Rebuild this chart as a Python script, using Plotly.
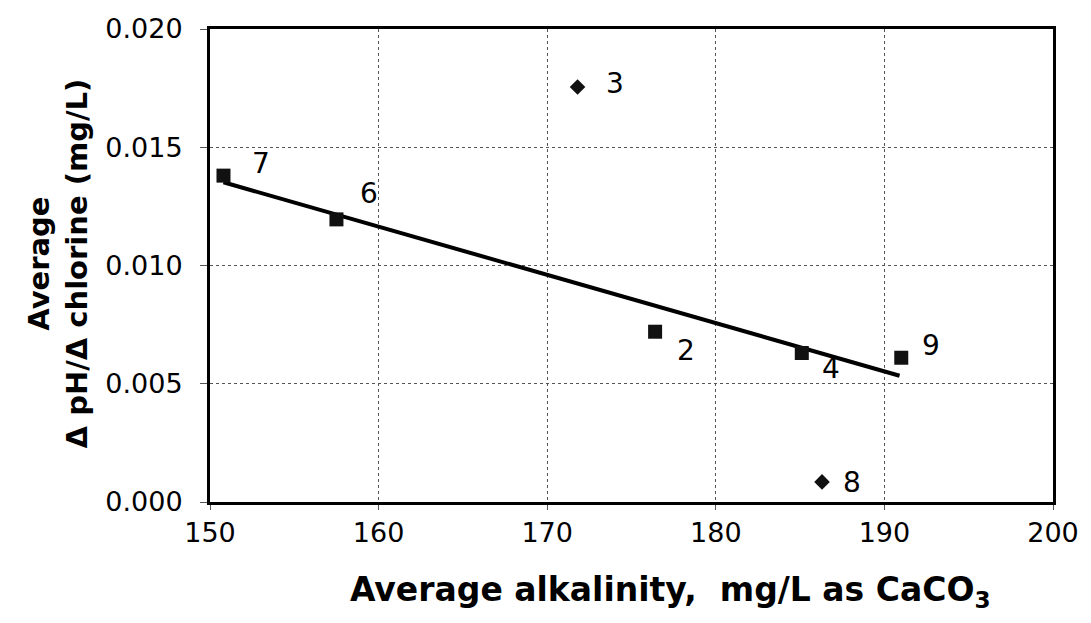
import plotly.graph_objects as go

# Data
sq_x = [150.8, 157.5, 176.4, 185.1, 191.0]
sq_y = [0.0138, 0.01195, 0.0072, 0.0063, 0.0061]
sq_labels = ["7", "6", "2", "4", "9"]
dm_x = [171.8, 186.3]
dm_y = [0.01755, 0.00085]
dm_labels = ["3", "8"]
trend_x = [150.8, 190.9]
trend_y = [0.01352, 0.00534]
x_ticks = [150, 160, 170, 180, 190, 200]
y_ticks = [0.000, 0.005, 0.010, 0.015, 0.020]

# label offsets in px (style)
sq_off = [(38, 12), (33, 26), (31, -19), (29, -15), (30, 12)]
dm_off = [(37, 3), (30, -1)]

FONT = "DejaVu Sans"
fig = go.Figure()
fig.add_trace(go.Scatter(x=trend_x, y=trend_y, mode="lines",
                         line=dict(color="black", width=4), showlegend=False))
fig.add_trace(go.Scatter(x=sq_x, y=sq_y, mode="markers",
                         marker=dict(symbol="square", size=14, color="#111"), showlegend=False))
fig.add_trace(go.Scatter(x=dm_x, y=dm_y, mode="markers",
                         marker=dict(symbol="diamond", size=12, color="#111"), showlegend=False))

for x, y, t, (dx, dy) in zip(sq_x + dm_x, sq_y + dm_y, sq_labels + dm_labels, sq_off + dm_off):
    fig.add_annotation(x=x, y=y, text=t, showarrow=False, xshift=dx, yshift=dy,
                       font=dict(family=FONT, size=28, color="black"))

fig.add_annotation(xref="paper", yref="paper", x=0.546, y=-0.19, xanchor="center", yanchor="middle",
                   text="<b>Average alkalinity,  mg/L as CaCO<sub>3</sub></b>", showarrow=False,
                   font=dict(family=FONT, size=33, color="black"))
fig.add_annotation(xref="paper", yref="paper", x=-0.18, y=0.505, xanchor="center", yanchor="middle",
                   text="<b>Average<br>Δ pH/Δ chlorine (mg/L)</b>", showarrow=False, textangle=-90,
                   font=dict(family=FONT, size=29, color="black"))

axis_common = dict(showline=True, linecolor="black", linewidth=3, mirror=True,
                   showgrid=True, gridcolor="#555", griddash="dot", gridwidth=1,
                   ticks="outside", tickcolor="#555", tickwidth=1,
                   zeroline=False, tickfont=dict(family=FONT, size=27, color="black"))
fig.update_xaxes(range=[150, 200], tickvals=x_ticks, ticktext=[str(v) for v in x_ticks],
                 ticklen=5, ticklabelstandoff=0, **axis_common)
fig.update_yaxes(range=[0, 0.020], tickvals=y_ticks, ticktext=[f"{v:.3f}" for v in y_ticks],
                 ticklen=7, ticklabelstandoff=12, **axis_common)

fig.update_layout(width=1091, height=623, margin=dict(l=210, r=29, t=29, b=121),
                  plot_bgcolor="white", paper_bgcolor="white", showlegend=False)
fig.write_html("out.html")
